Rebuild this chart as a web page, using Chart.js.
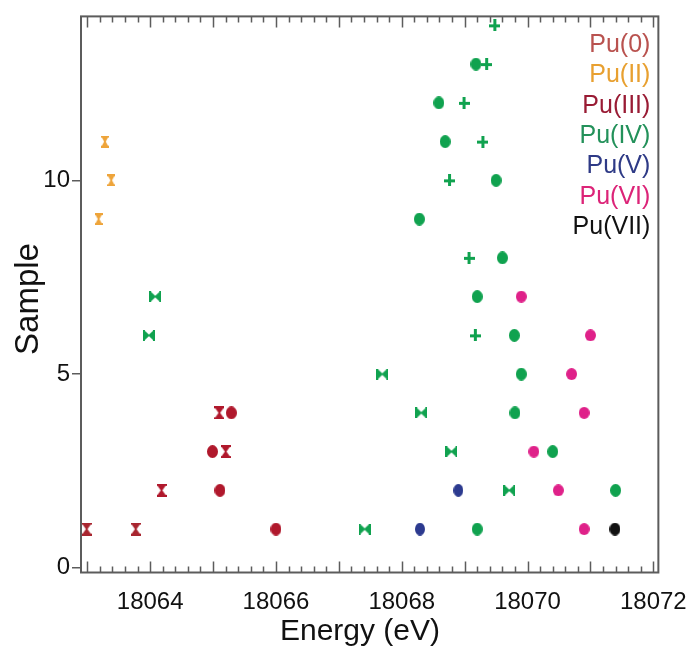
<!DOCTYPE html>
<html>
<head>
<meta charset="utf-8">
<script src="https://cdn.jsdelivr.net/npm/chart.js@4.4.1/dist/chart.umd.min.js"></script>
<style>
  html, body { margin: 0; padding: 0; background: #fff; }
  #wrap { width: 694px; height: 650px; }
</style>
</head>
<body>
<div id="wrap"><canvas id="grafico" width="694" height="650"></canvas></div>
<script>
// Eixos
const xTickLabels = [18064, 18066, 18068, 18070, 18072];
const yTickLabels = [0, 5, 10];
const xTitulo = 'Energy (eV)';
const yTitulo = 'Sample';

// Legenda (só texto)
const legendLabels = ['Pu(0)', 'Pu(II)', 'Pu(III)', 'Pu(IV)', 'Pu(V)', 'Pu(VI)', 'Pu(VII)'];
const legendColors = ['#b9524f', '#e8a030', '#991b34', '#23915a', '#2e3a86', '#dc2478', '#111111'];

// Pu(0) - ampulheta
const pu0HourX = [18062.99, 18063.77];
const pu0HourY = [1, 1];

// Pu(II) - ampulheta
const pu2HourX = [18063.18, 18063.38, 18063.28];
const pu2HourY = [9, 10, 11];

// Pu(III)
const pu3HourX = [18064.18, 18065.20, 18065.10];
const pu3HourY = [2, 3, 4];
const pu3CircX = [18066.00, 18065.11, 18064.99, 18065.29];
const pu3CircY = [1, 2, 3, 4];

// Pu(IV)
const pu4BowX = [18067.41, 18069.71, 18068.79, 18068.31, 18067.69, 18063.98, 18064.08];
const pu4BowY = [1, 2, 3, 4, 5, 6, 7];
const pu4CircX = [18069.20, 18071.40, 18070.40, 18069.80, 18069.90, 18069.79, 18069.20, 18069.60, 18068.28, 18069.50, 18068.69, 18068.59, 18069.18];
const pu4CircY = [1, 2, 3, 4, 5, 6, 7, 8, 9, 10, 11, 12, 13];
const pu4PlusX = [18069.17, 18069.07, 18068.76, 18069.29, 18068.99, 18069.35, 18069.48];
const pu4PlusY = [6, 8, 10, 11, 12, 13, 14];

// Pu(V)
const pu5CircX = [18068.29, 18068.90];
const pu5CircY = [1, 2];

// Pu(VI)
const pu6CircX = [18070.90, 18070.49, 18070.10, 18070.90, 18070.70, 18071.00, 18069.90];
const pu6CircY = [1, 2, 3, 4, 5, 6, 7];

// Pu(VII)
const pu7CircX = [18071.39];
const pu7CircY = [1];

const fonte = '"Liberation Sans", Arial, sans-serif';

// Marcadores desenhados em canvas
function novoCanvas(w, h) {
    const c = document.createElement('canvas');
    c.width = w; c.height = h;
    return c;
}
function oval(cor, w, h) {
    const c = novoCanvas(w, h), g = c.getContext('2d');
    g.fillStyle = cor;
    g.beginPath();
    g.ellipse(w / 2, h / 2, w / 2, h / 2, 0, 0, Math.PI * 2);
    g.fill();
    return c;
}
function ampulheta(cor, w, h) {
    const c = novoCanvas(w, h), g = c.getContext('2d');
    g.fillStyle = cor;
    g.fillRect(0, 0, w, 2);
    g.fillRect(0, h - 2, w, 2);
    g.beginPath();
    g.moveTo(1, 2); g.lineTo(w - 1, 2); g.lineTo(w / 2 + 0.8, h / 2);
    g.lineTo(w - 1, h - 2); g.lineTo(1, h - 2); g.lineTo(w / 2 - 0.8, h / 2);
    g.closePath();
    g.fill();
    return c;
}
function gravata(cor, w, h) {
    const c = novoCanvas(w, h), g = c.getContext('2d');
    g.fillStyle = cor;
    g.fillRect(0, 0, 2, h);
    g.fillRect(w - 2, 0, 2, h);
    g.beginPath();
    g.moveTo(2, 1); g.lineTo(w / 2, h / 2 - 0.8); g.lineTo(w - 2, 1);
    g.lineTo(w - 2, h - 1); g.lineTo(w / 2, h / 2 + 0.8); g.lineTo(2, h - 1);
    g.closePath();
    g.fill();
    return c;
}
function mais(cor, w, h) {
    const c = novoCanvas(w, h), g = c.getContext('2d');
    g.fillStyle = cor;
    g.fillRect(Math.round(w / 2 - 1.5), 0, 3, h);
    g.fillRect(0, Math.round(h / 2 - 1.5), w, 3);
    return c;
}

function pontos(xs, ys) {
    return xs.map((x, i) => ({ x: x, y: ys[i] }));
}
function serie(nome, xs, ys, estilo) {
    return {
        label: nome,
        data: pontos(xs, ys),
        pointStyle: estilo,
        pointRadius: 6,
        pointHoverRadius: 6
    };
}

const verm = '#b0182c', verde = '#10a24f';

// Moldura com ticks para dentro, títulos e legenda
const molduraPlugin = {
    id: 'moldura',
    beforeDatasetsDraw(chart) {
        const { ctx, chartArea: a, scales } = chart;
        const xs = scales.x;
        ctx.save();
        ctx.strokeStyle = '#5c5c5c';
        ctx.lineWidth = 1.5;
        const i0 = Math.ceil(xs.min * 5), i1 = Math.floor(xs.max * 5);
        ctx.beginPath();
        for (let i = i0; i <= i1; i++) {
            const px = Math.round(xs.getPixelForValue(i / 5)) + 0.5;
            const len = (i % 5 === 0) ? 11 : 6;
            ctx.moveTo(px, a.bottom); ctx.lineTo(px, a.bottom - len);
            ctx.moveTo(px, a.top); ctx.lineTo(px, a.top + len);
        }
        ctx.stroke();
        ctx.lineWidth = 2;
        ctx.strokeRect(a.left, a.top, a.right - a.left, a.bottom - a.top);
        ctx.restore();
    },
    afterDraw(chart) {
        const { ctx, chartArea: a } = chart;
        ctx.save();
        ctx.font = '25px ' + fonte;
        ctx.textAlign = 'right';
        ctx.textBaseline = 'middle';
        legendLabels.forEach((t, i) => {
            ctx.fillStyle = legendColors[i];
            ctx.fillText(t, a.right - 8, 45 + i * 30.4);
        });
        // títulos dos eixos
        ctx.fillStyle = '#111';
        ctx.textAlign = 'center';
        ctx.textBaseline = 'alphabetic';
        ctx.font = '30px ' + fonte;
        ctx.fillText(xTitulo, 360, 640);
        ctx.translate(38, 299);
        ctx.rotate(-Math.PI / 2);
        ctx.font = '33px ' + fonte;
        ctx.fillText(yTitulo, 0, 0);
        ctx.restore();
    }
};

const ctx = document.getElementById('grafico').getContext('2d');
const chart = new Chart(ctx, {
    type: 'scatter',
    data: {
        datasets: [
            serie('Pu(0)', pu0HourX, pu0HourY, ampulheta('#a8252f', 10, 13)),
            serie('Pu(II)', pu2HourX, pu2HourY, ampulheta('#eea43a', 8, 12)),
            serie('Pu(III)', pu3HourX, pu3HourY, ampulheta(verm, 10, 13)),
            serie('Pu(III)', pu3CircX, pu3CircY, oval(verm, 11, 13)),
            serie('Pu(IV)', pu4BowX, pu4BowY, gravata(verde, 12, 11)),
            serie('Pu(IV)', pu4CircX, pu4CircY, oval(verde, 11, 13)),
            serie('Pu(IV)', pu4PlusX, pu4PlusY, mais(verde, 11, 12)),
            serie('Pu(V)', pu5CircX, pu5CircY, oval('#2c3a8f', 10, 13)),
            serie('Pu(VI)', pu6CircX, pu6CircY, oval('#df2189', 11, 12)),
            serie('Pu(VII)', pu7CircX, pu7CircY, oval('#111111', 11, 13))
        ]
    },
    options: {
        responsive: false,
        animation: false,
        devicePixelRatio: 1,
        layout: { padding: { top: 15.7, right: 34, left: 0, bottom: 0 } },
        plugins: {
            legend: { display: false },
            tooltip: { enabled: false }
        },
        scales: {
            x: {
                type: 'linear',
                min: 18062.9,
                max: 18072.08,
                afterBuildTicks: (s) => { s.ticks = xTickLabels.map(v => ({ value: v })); },
                afterFit: (s) => { s.height = 77.5; },
                grid: { display: false },
                border: { display: false },
                ticks: {
                    padding: 7,
                    color: '#111',
                    font: { family: fonte, size: 24 },
                    callback: (v) => String(v)
                },
                title: { display: false }
            },
            y: {
                type: 'linear',
                min: -0.12,
                max: 14.23,
                afterBuildTicks: (s) => { s.ticks = yTickLabels.map(v => ({ value: v })); },
                afterFit: (s) => { s.width = 81; },
                grid: {
                    drawOnChartArea: false,
                    drawTicks: true,
                    tickLength: 9,
                    tickColor: '#5c5c5c',
                    lineWidth: 1.5
                },
                border: { display: false },
                ticks: {
                    padding: 2,
                    color: '#111',
                    font: { family: fonte, size: 24 }
                },
                title: { display: false }
            }
        }
    },
    plugins: [molduraPlugin]
});
</script>
</body>
</html>
